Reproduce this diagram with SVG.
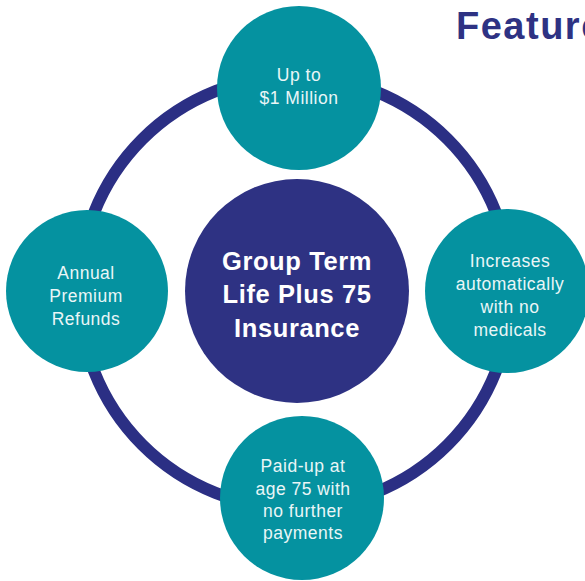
<svg xmlns="http://www.w3.org/2000/svg" width="585" height="581" viewBox="0 0 585 581">
<style>
.ring{fill:none;stroke:#2B2F84;stroke-width:12}
.sat{fill:#0592A0}
.hub{fill:#2E3283}
.st{font-family:"Liberation Sans",Arial,sans-serif;font-size:17.5px;letter-spacing:0.5px;fill:#EAF6F7;text-anchor:middle}
.ht{font-family:"Liberation Sans",Arial,sans-serif;font-size:25.5px;letter-spacing:0.6px;font-weight:bold;fill:#FFFFFF;text-anchor:middle}
.title{font-family:"Liberation Sans",Arial,sans-serif;font-size:38px;letter-spacing:1.5px;font-weight:bold;fill:#2E3283}
</style>
<g id="connectors">
<circle class="ring" cx="295" cy="292" r="216"/>
</g>
<text class="title" x="456" y="39">Features</text>
<g id="hub">
<circle class="hub" cx="297" cy="291" r="112"/>
<text class="ht" x="297" y="270">Group Term</text>
<text class="ht" x="297" y="303">Life Plus 75</text>
<text class="ht" x="297" y="337">Insurance</text>
</g>
<g id="top">
<circle class="sat" cx="299" cy="88" r="82"/>
<text class="st" x="299" y="81">Up to</text>
<text class="st" x="299" y="104">$1 Million</text>
</g>
<g id="left">
<circle class="sat" cx="87" cy="291" r="81"/>
<text class="st" x="86" y="279">Annual</text>
<text class="st" x="86" y="302">Premium</text>
<text class="st" x="86" y="325">Refunds</text>
</g>
<g id="right">
<circle class="sat" cx="507" cy="291" r="82"/>
<text class="st" x="510" y="267">Increases</text>
<text class="st" x="510" y="290">automatically</text>
<text class="st" x="510" y="313">with no</text>
<text class="st" x="510" y="336">medicals</text>
</g>
<g id="bottom">
<circle class="sat" cx="302" cy="498" r="82"/>
<text class="st" x="303" y="472">Paid-up at</text>
<text class="st" x="303" y="495">age 75 with</text>
<text class="st" x="303" y="517">no further</text>
<text class="st" x="303" y="539">payments</text>
</g>
</svg>
